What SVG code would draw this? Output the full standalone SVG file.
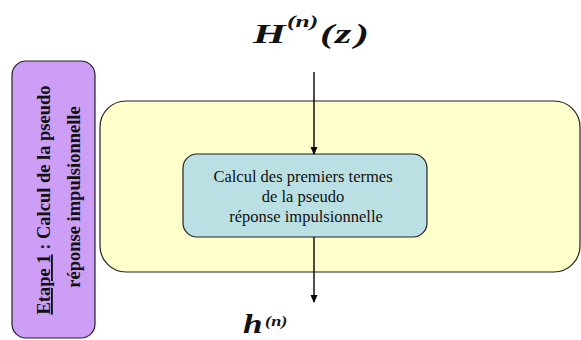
<svg xmlns="http://www.w3.org/2000/svg" width="581" height="340" viewBox="0 0 581 340">
<style>
.box{stroke:#222;stroke-width:1.2}
.t{font-family:"Liberation Serif",serif;fill:#111}
.conn{stroke:#000;stroke-width:1.4;fill:none}
</style>
<defs>
<marker id="ah" markerWidth="8" markerHeight="8" refX="7" refY="4" orient="auto" markerUnits="userSpaceOnUse">
<path d="M0,0.5 L8,4 L0,7.5 Z" fill="#000"/>
</marker>
</defs>
<rect width="581" height="340" fill="#fff"/>
<g id="etape">
<rect class="box" x="12" y="61" width="83" height="277" rx="14" fill="#CC9EF6"/>
<text class="t" font-weight="bold" font-size="18.5" text-anchor="middle" transform="translate(50,200) rotate(-90)"><tspan text-decoration="underline">Etape 1</tspan> : Calcul de la pseudo</text>
<text class="t" font-weight="bold" font-size="18.5" text-anchor="middle" transform="translate(80,197) rotate(-90)">réponse impulsionnelle</text>
</g>
<g id="container">
<rect class="box" x="100" y="101" width="480" height="171" rx="26" fill="#FFFFCC"/>
</g>
<g id="calcul">
<rect class="box" x="183" y="154" width="244" height="83" rx="14" fill="#BBE0E3"/>
<text class="t" font-size="16.5" text-anchor="middle"><tspan x="303" y="182">Calcul des premiers termes</tspan><tspan x="303" y="202">de la pseudo</tspan><tspan x="304" y="222"> réponse impulsionnelle</tspan></text>
</g>
<g id="input">
<text class="t" font-weight="bold" font-style="italic" font-size="28" transform="translate(253,43) scale(1.5,1)"><tspan x="0" y="0">H</tspan><tspan x="22.7" y="-16" font-size="17">(n)</tspan><tspan x="44.7" y="0">(</tspan><tspan x="54.7" y="0">z</tspan><tspan x="68" y="0">)</tspan></text>
</g>
<g id="output">
<text class="t" font-weight="bold" font-style="italic" font-size="27" transform="translate(243,333) scale(1.3,1)"><tspan x="0" y="0">h</tspan><tspan x="17" y="-7" font-size="14">(n)</tspan></text>
</g>
<g id="connectors">
<line class="conn" x1="314" y1="72" x2="314" y2="154" marker-end="url(#ah)"/>
<line class="conn" x1="314" y1="237" x2="314" y2="302" marker-end="url(#ah)"/>
</g>
</svg>
